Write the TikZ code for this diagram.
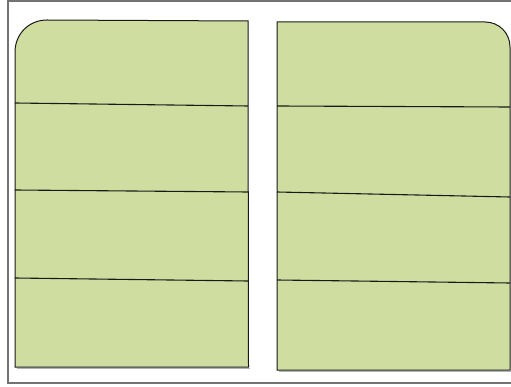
\documentclass[tikz,border=0pt]{standalone}
\usepackage{tikz}
\definecolor{leaf}{RGB}{207,222,160}
\begin{document}
\begin{tikzpicture}[
  x=1pt, y=-1pt,
  frame/.style={line width=1.4pt, black!55},
  panel/.style={line width=1.0pt, black!90, fill=leaf},
  shade/.style={line width=1.0pt, black!30},
  rule/.style={line width=1.1pt, black!90}]

\useasboundingbox (0,0) rectangle (511,387);

% ============================ outer frame ================================
\draw[frame] (513,1) -- (8,1) -- (8,383) -- (513,383);

% ============================ left panel =================================
\draw[shade] (16.5,368.5) -- (249.5,368.5);
\draw[panel]
  (15,367) -- (15,52) .. controls (15,35) and (28,20) .. (47,20) -- (248,21)
  -- (248.5,367) -- cycle;
% three slanted dividers
\foreach \ya/\yb in {103/106, 190/192, 278/281}{
  \draw[rule] (15,\ya) -- (248,\yb);}

% ============================ right panel ================================
\draw[shade] (278.5,371.5) -- (512,371.5);
\draw[panel]
  (277,370) -- (277,22) -- (485,22) .. controls (499,22) and (510,33) .. (510,47)
  -- (510,370) -- cycle;
\foreach \ya/\yb in {106/107, 192/197, 280/283}{
  \draw[rule] (277,\ya) -- (510,\yb);}

\end{tikzpicture}
\end{document}
